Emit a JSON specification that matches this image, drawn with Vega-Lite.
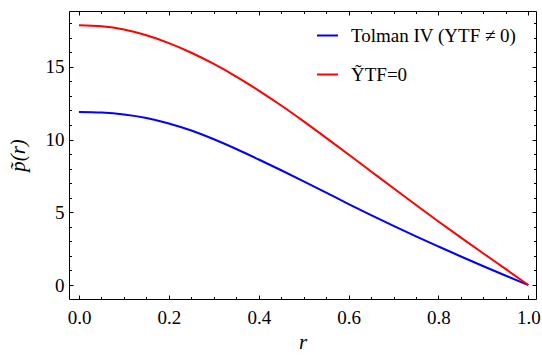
{
  "$schema": "https://vega.github.io/schema/vega-lite/v6.json",
  "width": 467,
  "height": 288,
  "autosize": {"type": "none"},
  "padding": {"left": 69, "top": 11, "right": 6, "bottom": 57},
  "data": {"values": [
    {"r": 0.00, "p": 11.90, "model": "Tolman IV (YTF ≠ 0)"},
    {"r": 0.05, "p": 11.86, "model": "Tolman IV (YTF ≠ 0)"},
    {"r": 0.10, "p": 11.73, "model": "Tolman IV (YTF ≠ 0)"},
    {"r": 0.15, "p": 11.49, "model": "Tolman IV (YTF ≠ 0)"},
    {"r": 0.20, "p": 11.11, "model": "Tolman IV (YTF ≠ 0)"},
    {"r": 0.25, "p": 10.62, "model": "Tolman IV (YTF ≠ 0)"},
    {"r": 0.30, "p": 10.02, "model": "Tolman IV (YTF ≠ 0)"},
    {"r": 0.35, "p": 9.35, "model": "Tolman IV (YTF ≠ 0)"},
    {"r": 0.40, "p": 8.63, "model": "Tolman IV (YTF ≠ 0)"},
    {"r": 0.45, "p": 7.89, "model": "Tolman IV (YTF ≠ 0)"},
    {"r": 0.50, "p": 7.13, "model": "Tolman IV (YTF ≠ 0)"},
    {"r": 0.55, "p": 6.36, "model": "Tolman IV (YTF ≠ 0)"},
    {"r": 0.60, "p": 5.57, "model": "Tolman IV (YTF ≠ 0)"},
    {"r": 0.65, "p": 4.81, "model": "Tolman IV (YTF ≠ 0)"},
    {"r": 0.70, "p": 4.07, "model": "Tolman IV (YTF ≠ 0)"},
    {"r": 0.75, "p": 3.35, "model": "Tolman IV (YTF ≠ 0)"},
    {"r": 0.80, "p": 2.65, "model": "Tolman IV (YTF ≠ 0)"},
    {"r": 0.85, "p": 1.96, "model": "Tolman IV (YTF ≠ 0)"},
    {"r": 0.90, "p": 1.29, "model": "Tolman IV (YTF ≠ 0)"},
    {"r": 0.95, "p": 0.64, "model": "Tolman IV (YTF ≠ 0)"},
    {"r": 1.00, "p": 0.00, "model": "Tolman IV (YTF ≠ 0)"},
    {"r": 0.00, "p": 17.86, "model": "ỸTF=0"},
    {"r": 0.05, "p": 17.79, "model": "ỸTF=0"},
    {"r": 0.10, "p": 17.57, "model": "ỸTF=0"},
    {"r": 0.15, "p": 17.17, "model": "ỸTF=0"},
    {"r": 0.20, "p": 16.63, "model": "ỸTF=0"},
    {"r": 0.25, "p": 15.97, "model": "ỸTF=0"},
    {"r": 0.30, "p": 15.20, "model": "ỸTF=0"},
    {"r": 0.35, "p": 14.33, "model": "ỸTF=0"},
    {"r": 0.40, "p": 13.37, "model": "ỸTF=0"},
    {"r": 0.45, "p": 12.34, "model": "ỸTF=0"},
    {"r": 0.50, "p": 11.25, "model": "ỸTF=0"},
    {"r": 0.55, "p": 10.12, "model": "ỸTF=0"},
    {"r": 0.60, "p": 8.97, "model": "ỸTF=0"},
    {"r": 0.65, "p": 7.81, "model": "ỸTF=0"},
    {"r": 0.70, "p": 6.65, "model": "ỸTF=0"},
    {"r": 0.75, "p": 5.50, "model": "ỸTF=0"},
    {"r": 0.80, "p": 4.37, "model": "ỸTF=0"},
    {"r": 0.85, "p": 3.26, "model": "ỸTF=0"},
    {"r": 0.90, "p": 2.17, "model": "ỸTF=0"},
    {"r": 0.95, "p": 1.09, "model": "ỸTF=0"},
    {"r": 1.00, "p": 0.00, "model": "ỸTF=0"}
  ]},
  "layer": [
    {
      "mark": {"type": "line", "strokeWidth": 2, "interpolate": "monotone"},
      "encoding": {
        "x": {
          "field": "r", "type": "quantitative",
          "scale": {"domain": [-0.0223, 1.017], "nice": false, "zero": false},
          "axis": {
            "orient": "bottom", "title": "r",
            "values": [0, 0.2, 0.4, 0.6, 0.8, 1.0],
            "format": ".1f",
            "ticks": true, "tickSize": -4, "tickColor": "#000000", "tickWidth": 1,
            "labelPadding": 13,
            "titlePadding": 4
          }
        },
        "y": {
          "field": "p", "type": "quantitative",
          "scale": {"domain": [-0.96, 18.84], "nice": false, "zero": false},
          "axis": {
            "orient": "left", "title": "p̃(r)",
            "values": [0, 5, 10, 15],
            "format": "d",
            "ticks": true, "tickSize": -4, "tickColor": "#000000", "tickWidth": 1,
            "labelPadding": 9,
            "titlePadding": 17
          }
        },
        "color": {
          "field": "model", "type": "nominal",
          "scale": {"domain": ["Tolman IV (YTF ≠ 0)", "ỸTF=0"], "range": ["#0000ff", "#ff0000"]},
          "legend": {
            "title": null, "orient": "none", "legendX": 247, "legendY": 13,
            "symbolType": "stroke", "symbolSize": 441, "symbolStrokeWidth": 2,
            "labelFont": "Liberation Serif", "labelFontSize": 19, "labelColor": "black",
            "labelLimit": 300,
            "labelOffset": 12, "rowPadding": 17, "padding": 0
          }
        }
      }
    },
    {
      "mark": {"type": "line", "opacity": 0},
      "encoding": {
        "x": {
          "field": "r", "type": "quantitative",
          "axis": {"orient": "top", "title": null, "labels": false, "values": [0, 0.2, 0.4, 0.6, 0.8, 1.0], "ticks": true, "tickSize": -4, "tickColor": "#000000", "tickWidth": 1}
        },
        "y": {
          "field": "p", "type": "quantitative",
          "axis": {"orient": "right", "title": null, "labels": false, "values": [0, 5, 10, 15], "ticks": true, "tickSize": -4, "tickColor": "#000000", "tickWidth": 1}
        },
        "detail": {"field": "model"}
      }
    },
    {
      "mark": {"type": "line", "opacity": 0},
      "encoding": {
        "x": {
          "field": "r", "type": "quantitative",
          "axis": {"orient": "bottom", "title": null, "labels": false, "values": [0.05,0.1,0.15,0.25,0.3,0.35,0.45,0.5,0.55,0.65,0.7,0.75,0.85,0.9,0.95], "ticks": true, "tickSize": -2.5, "tickColor": "#000000", "tickWidth": 1}
        },
        "y": {
          "field": "p", "type": "quantitative",
          "axis": {"orient": "left", "title": null, "labels": false, "values": [1,2,3,4,6,7,8,9,11,12,13,14,16,17,18], "ticks": true, "tickSize": -2.5, "tickColor": "#000000", "tickWidth": 1}
        },
        "detail": {"field": "model"}
      }
    },
    {
      "mark": {"type": "line", "opacity": 0},
      "encoding": {
        "x": {
          "field": "r", "type": "quantitative",
          "axis": {"orient": "top", "title": null, "labels": false, "values": [0.05,0.1,0.15,0.25,0.3,0.35,0.45,0.5,0.55,0.65,0.7,0.75,0.85,0.9,0.95], "ticks": true, "tickSize": -2.5, "tickColor": "#000000", "tickWidth": 1}
        },
        "y": {
          "field": "p", "type": "quantitative",
          "axis": {"orient": "right", "title": null, "labels": false, "values": [1,2,3,4,6,7,8,9,11,12,13,14,16,17,18], "ticks": true, "tickSize": -2.5, "tickColor": "#000000", "tickWidth": 1}
        },
        "detail": {"field": "model"}
      }
    }
  ],
  "resolve": {"axis": {"x": "independent", "y": "independent"}},
  "config": {
    "view": {"stroke": "black", "strokeWidth": 1},
    "axis": {
      "domain": false, "grid": false,
      "labelFont": "Liberation Serif", "labelFontSize": 19, "labelColor": "black",
      "titleFont": "Liberation Serif", "titleFontSize": 21, "titleFontStyle": "italic",
      "titleFontWeight": "normal", "titleColor": "black"
    }
  }
}
